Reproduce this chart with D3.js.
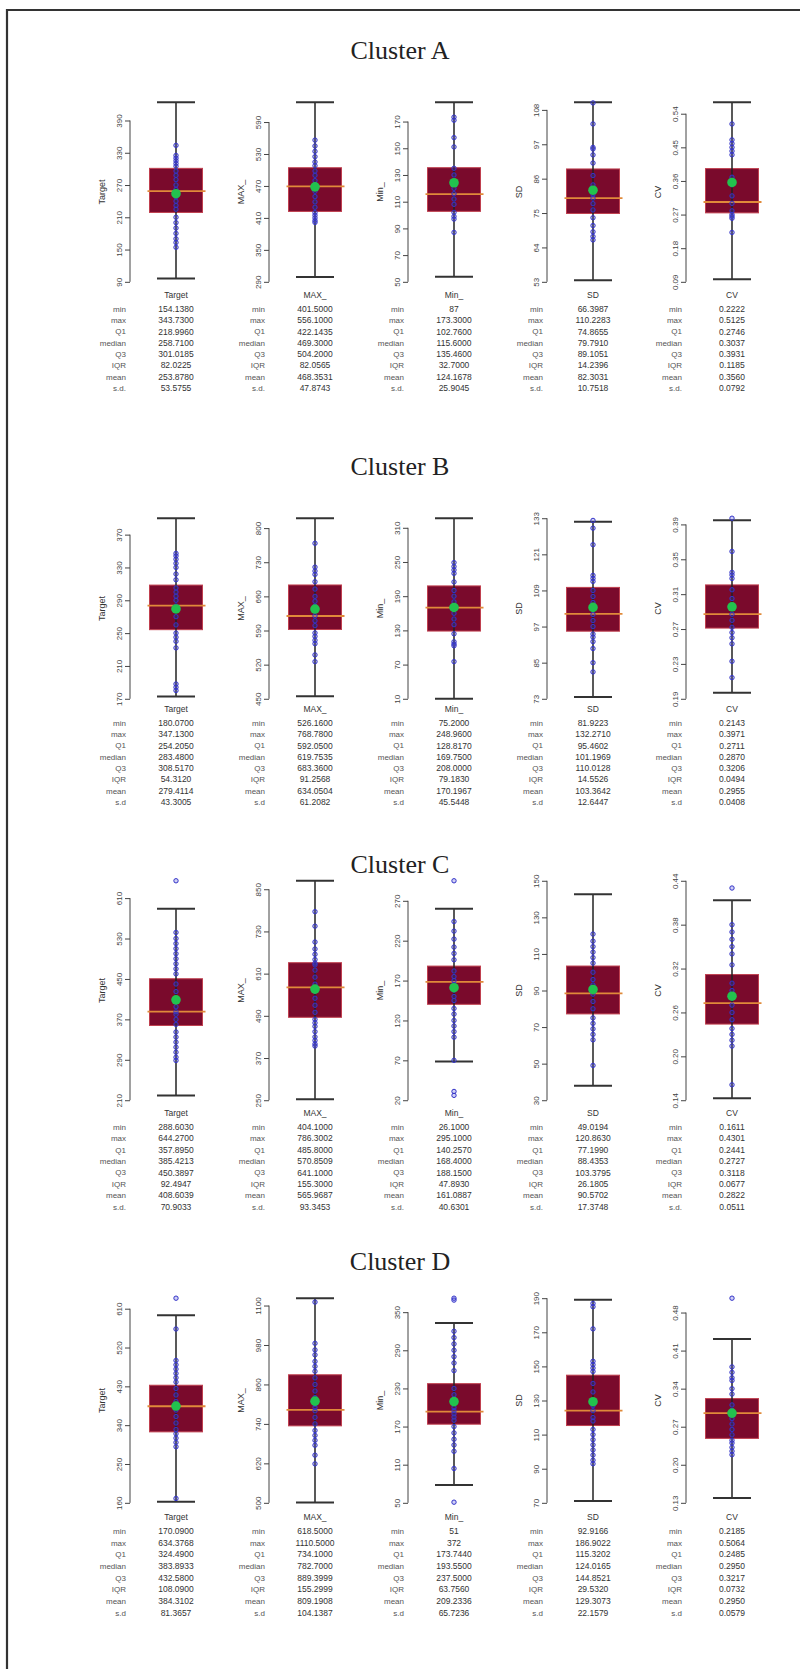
<!DOCTYPE html>
<html>
<head>
<meta charset="utf-8">
<script src="https://cdn.jsdelivr.net/npm/d3@7"></script>
<style>
  body { margin: 0; background: #fff; }
  svg text { font-family: "Liberation Sans", Arial, sans-serif; }
</style>
</head>
<body>
<svg id="chart" width="800" height="1669"></svg>
<script>
var clusterNames = ["Cluster A", "Cluster B", "Cluster C", "Cluster D"];
var varNames = ["Target", "MAX_", "Min_", "SD", "CV"];
var statLabels = ["min", "max", "Q1", "median", "Q3", "IQR", "mean", "s.d."];
var sdLabels = ["s.d.", "s.d", "s.d.", "s.d"];

// summary tables, one row per variable, columns in statLabels order
var statsA = [
  ["154.1380", "343.7300", "218.9960", "258.7100", "301.0185", "82.0225", "253.8780", "53.5755"],
  ["401.5000", "556.1000", "422.1435", "469.3000", "504.2000", "82.0565", "468.3531", "47.8743"],
  ["87", "173.3000", "102.7600", "115.6000", "135.4600", "32.7000", "124.1678", "25.9045"],
  ["66.3987", "110.2283", "74.8655", "79.7910", "89.1051", "14.2396", "82.3031", "10.7518"],
  ["0.2222", "0.5125", "0.2746", "0.3037", "0.3931", "0.1185", "0.3560", "0.0792"]
];
var statsB = [
  ["180.0700", "347.1300", "254.2050", "283.4800", "308.5170", "54.3120", "279.4114", "43.3005"],
  ["526.1600", "768.7800", "592.0500", "619.7535", "683.3600", "91.2568", "634.0504", "61.2082"],
  ["75.2000", "248.9600", "128.8170", "169.7500", "208.0000", "79.1830", "170.1967", "45.5448"],
  ["81.9223", "132.2710", "95.4602", "101.1969", "110.0128", "14.5526", "103.3642", "12.6447"],
  ["0.2143", "0.3971", "0.2711", "0.2870", "0.3206", "0.0494", "0.2955", "0.0408"]
];
var statsC = [
  ["288.6030", "644.2700", "357.8950", "385.4213", "450.3897", "92.4947", "408.6039", "70.9033"],
  ["404.1000", "786.3002", "485.8000", "570.8509", "641.1000", "155.3000", "565.9687", "93.3453"],
  ["26.1000", "295.1000", "140.2570", "168.4000", "188.1500", "47.8930", "161.0887", "40.6301"],
  ["49.0194", "120.8630", "77.1990", "88.4353", "103.3795", "26.1805", "90.5702", "17.3748"],
  ["0.1611", "0.4301", "0.2441", "0.2727", "0.3118", "0.0677", "0.2822", "0.0511"]
];
var statsD = [
  ["170.0900", "634.3768", "324.4900", "383.8933", "432.5800", "108.0900", "384.3102", "81.3657"],
  ["618.5000", "1110.5000", "734.1000", "782.7000", "889.3999", "155.2999", "809.1908", "104.1387"],
  ["51", "372", "173.7440", "193.5500", "237.5000", "63.7560", "209.2336", "65.7236"],
  ["92.9166", "186.9022", "115.3202", "124.0165", "144.8521", "29.5320", "129.3073", "22.1579"],
  ["0.2185", "0.5064", "0.2485", "0.2950", "0.3217", "0.0732", "0.2950", "0.0579"]
];

// y axis tick values per variable
var ticksA = [[90, 150, 210, 270, 330, 390], [290, 350, 410, 470, 530, 590], [50, 70, 90, 110, 130, 150, 170], [53, 64, 75, 86, 97, 108], [0.09, 0.18, 0.27, 0.36, 0.45, 0.54]];
var ticksB = [[170, 210, 250, 290, 330, 370], [450, 520, 590, 660, 730, 800], [10, 70, 130, 190, 250, 310], [73, 85, 97, 109, 121, 133], [0.19, 0.23, 0.27, 0.31, 0.35, 0.39]];
var ticksC = [[210, 290, 370, 450, 530, 610], [250, 370, 490, 610, 730, 850], [20, 70, 120, 170, 220, 270], [30, 50, 70, 90, 110, 130, 150], [0.14, 0.20, 0.26, 0.32, 0.38, 0.44]];
var ticksD = [[160, 250, 340, 430, 520, 610], [500, 620, 740, 860, 980, 1100], [50, 110, 170, 230, 290, 350], [70, 90, 110, 130, 150, 170, 190], [0.13, 0.20, 0.27, 0.34, 0.41, 0.48]];

var pointsA = [
  [343.73, 325, 320, 315, 310, 305, 296, 288, 280, 270, 262, 255, 248, 240, 232, 225, 210, 200, 190, 180, 170, 163, 154.14],
  [556.1, 545, 535, 525, 515, 508, 498, 490, 480, 470, 460, 450, 440, 430, 420, 415, 410, 405, 401.5],
  [173.3, 171, 158, 151, 135, 130, 125, 120, 116, 112, 108, 102, 99, 97, 87],
  [110.23, 103.5, 96, 95.5, 93.6, 91, 87, 84, 81, 79.8, 78, 76, 73.5, 71, 69, 67.5, 66.4],
  [0.5125, 0.47, 0.46, 0.45, 0.44, 0.43, 0.37, 0.35, 0.32, 0.30, 0.28, 0.27, 0.265, 0.26, 0.2222]
];
var pointsB = [
  [347.13, 344, 340, 335, 330, 322, 315, 305, 300, 295, 290, 283, 280, 270, 260, 250, 245, 240, 232, 188, 184, 180.07],
  [768.78, 720, 712, 705, 690, 675, 660, 650, 640, 630, 620, 610, 600, 585, 578, 570, 563, 540, 526.16],
  [248.96, 242, 236, 230, 215, 200, 190, 180, 170, 160, 150, 140, 124, 110, 106, 103, 75.2],
  [132.27, 129.7, 124.2, 114, 113, 112, 109, 107, 105, 103, 101, 99, 97, 94.5, 93.5, 92, 89.7, 85, 81.92],
  [0.3971, 0.359, 0.335, 0.332, 0.328, 0.315, 0.305, 0.295, 0.287, 0.28, 0.272, 0.266, 0.26, 0.253, 0.233, 0.2143]
];
var pointsC = [
  [644.27, 542, 530, 520, 510, 500, 490, 480, 470, 460, 440, 425, 410, 395, 385, 380, 370, 360, 345, 335, 325, 315, 305, 295, 288.6],
  [786.3, 745, 700, 680, 665, 650, 640, 635, 620, 600, 580, 570, 560, 540, 520, 500, 480, 470, 460, 445, 430, 420, 410, 404.1],
  [295.1, 244, 232, 222, 212, 204, 196, 182, 175, 170, 165, 158, 150, 145, 135, 128, 120, 113, 106, 99, 70, 31, 26.1],
  [120.86, 117, 114, 111, 108, 105, 100, 96, 93, 90, 88, 84, 80, 75, 72, 69, 66, 63, 49.02],
  [0.4301, 0.38, 0.37, 0.36, 0.35, 0.34, 0.325, 0.30, 0.29, 0.28, 0.27, 0.26, 0.25, 0.238, 0.23, 0.222, 0.214, 0.1611]
];
var pointsD = [
  [634.38, 563, 490, 480, 470, 460, 450, 440, 425, 410, 395, 384, 375, 360, 345, 330, 320, 310, 300, 290, 170.09],
  [1110.5, 985, 965, 950, 930, 915, 900, 880, 860, 840, 820, 800, 790, 780, 760, 740, 720, 705, 690, 675, 645, 618.5],
  [372, 369, 320, 310, 300, 290, 280, 270, 258, 230, 220, 210, 200, 195, 190, 185, 180, 170, 160, 150, 141, 131, 104, 51],
  [186.9, 185, 172, 153, 151, 149, 147, 140, 135, 130, 127, 124, 120, 118, 113, 110, 107, 104, 101, 98, 95, 92.9],
  [0.5064, 0.38, 0.37, 0.36, 0.355, 0.34, 0.33, 0.31, 0.30, 0.295, 0.285, 0.275, 0.265, 0.255, 0.245, 0.24, 0.232, 0.225, 0.2185]
];

var allStats = [statsA, statsB, statsC, statsD];
var allTicks = [ticksA, ticksB, ticksC, ticksD];
var allPoints = [pointsA, pointsB, pointsC, pointsD];

// page layout (pixels)
var titleY = [50, 466, 864, 1261];
var plotTop = [95, 511, 872, 1290];
var plotBottom = [289, 706, 1109, 1511];
var headerY = [295, 709, 1113, 1517];
var rowStep = [11.3, 11.3, 11.4, 11.7];
var boxX0 = 176, boxStep = 139, boxW = 53, capW = 38;

var svg = d3.select("#chart");

// scan frame (left and top edges)
svg.append("line").attr("x1", 7).attr("x2", 7).attr("y1", 9).attr("y2", 1669)
  .attr("stroke", "#333").attr("stroke-width", 2.2);
svg.append("line").attr("x1", 6).attr("x2", 800).attr("y1", 10).attr("y2", 10)
  .attr("stroke", "#333").attr("stroke-width", 2.2);

function drawCluster(c) {
  var g = svg.append("g").attr("class", "cluster");

  g.append("text")
    .attr("x", 400).attr("y", titleY[c])
    .attr("dy", "0.35em")
    .attr("text-anchor", "middle")
    .style("font-family", "'Liberation Serif', 'Times New Roman', serif")
    .style("font-size", "26px")
    .attr("fill", "#222")
    .text(clusterNames[c]);

  varNames.forEach(function(name, v) {
    var cx = boxX0 + boxStep * v;
    var axisX = cx - 46;
    var s = allStats[c][v].map(Number);
    var q1 = s[2], med = s[3], q3 = s[4], iqr = s[5], mean = s[6];
    var lo = q1 - 1.5 * iqr, hi = q3 + 1.5 * iqr;
    var pts = allPoints[c][v];
    var ticks = allTicks[c][v];

    var ext = d3.extent([lo, hi].concat(pts, ticks));
    var pad = (ext[1] - ext[0]) * 0.04;
    var y = d3.scaleLinear()
      .domain([ext[0] - pad, ext[1] + pad])
      .range([plotBottom[c], plotTop[c]]);

    var fmt = name == "CV" ? d3.format(".2f") : d3.format("d");

    // y axis, R style: line only between first and last tick
    var ax = g.append("g")
      .attr("transform", "translate(" + axisX + ",0)")
      .call(d3.axisLeft(y).tickValues(ticks).tickSize(5).tickFormat(fmt));
    ax.select(".domain").remove();
    ax.selectAll(".tick line").attr("stroke", "#444");
    ax.selectAll(".tick text")
      .attr("transform", "rotate(-90)")
      .attr("x", 0).attr("y", -8).attr("dy", 0)
      .attr("text-anchor", "middle")
      .attr("fill", "#444")
      .style("font-size", "8px");
    g.append("line")
      .attr("x1", axisX).attr("x2", axisX)
      .attr("y1", y(ticks[0])).attr("y2", y(ticks[ticks.length - 1]))
      .attr("stroke", "#444");

    // axis title
    g.append("text")
      .attr("transform", "translate(" + (axisX - 25) + "," + ((plotTop[c] + plotBottom[c]) / 2) + ") rotate(-90)")
      .attr("text-anchor", "middle")
      .attr("fill", "#333")
      .style("font-size", "9px")
      .text(name);

    // box
    g.append("rect")
      .attr("x", cx - boxW / 2).attr("width", boxW)
      .attr("y", y(q3)).attr("height", y(q1) - y(q3))
      .attr("fill", "#7a0a2c")
      .attr("stroke", "#c0404f").attr("stroke-width", 1);

    // whisker + caps
    g.append("line")
      .attr("x1", cx).attr("x2", cx).attr("y1", y(hi)).attr("y2", y(lo))
      .attr("stroke", "#222").attr("stroke-width", 1.5);
    [lo, hi].forEach(function(val) {
      g.append("line")
        .attr("x1", cx - capW / 2).attr("x2", cx + capW / 2)
        .attr("y1", y(val)).attr("y2", y(val))
        .attr("stroke", "#333").attr("stroke-width", 2);
    });

    // median
    g.append("line")
      .attr("x1", cx - boxW / 2 - 2).attr("x2", cx + boxW / 2 + 3)
      .attr("y1", y(med)).attr("y2", y(med))
      .attr("stroke", "#e08a3a").attr("stroke-width", 1.8);

    // observations
    g.selectAll(null)
      .data(pts)
      .enter().append("circle")
      .attr("cx", cx).attr("cy", function(d) { return y(d); })
      .attr("r", 2.2)
      .attr("fill", "rgba(70,70,220,0.25)")
      .attr("stroke", "#3434c8").attr("stroke-width", 1);

    // mean
    g.append("circle")
      .attr("cx", cx).attr("cy", y(mean)).attr("r", 4.8)
      .attr("fill", "#22c24e");

    // summary table under the panel
    g.append("text")
      .attr("x", cx).attr("y", headerY[c])
      .attr("dy", "0.35em")
      .attr("text-anchor", "middle")
      .attr("fill", "#333")
      .style("font-size", "8.5px")
      .text(name);

    statLabels.forEach(function(lab, i) {
      var ry = headerY[c] + 14 + i * rowStep[c];
      g.append("text")
        .attr("x", cx - 50).attr("y", ry).attr("dy", "0.35em")
        .attr("text-anchor", "end")
        .attr("fill", "#555")
        .style("font-size", "8px")
        .text(i == 7 ? sdLabels[c] : lab);
      g.append("text")
        .attr("x", cx).attr("y", ry).attr("dy", "0.35em")
        .attr("text-anchor", "middle")
        .attr("fill", "#333")
        .style("font-size", "8.5px")
        .text(allStats[c][v][i]);
    });
  });
}

for (var c = 0; c < clusterNames.length; c++) {
  drawCluster(c);
}
</script>
</body>
</html>
